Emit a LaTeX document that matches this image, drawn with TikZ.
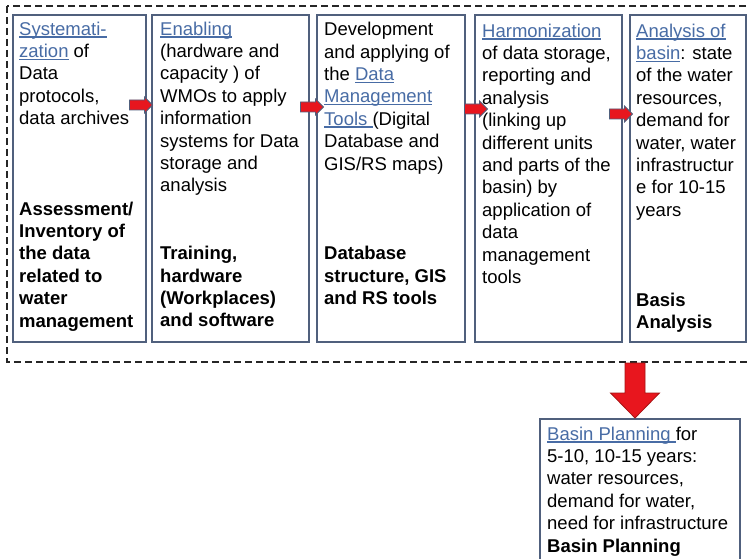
\documentclass[tikz,border=0pt]{standalone}
\usepackage{fontspec}
\setmainfont{Liberation Sans}
\definecolor{boxc}{RGB}{80,96,125}
\definecolor{linkc}{RGB}{72,108,165}
\definecolor{arrowred}{RGB}{232,22,30}
\definecolor{darkred}{RGB}{165,20,20}
\newcommand{\lnk}[1]{{\color{linkc}\setbox0\hbox{#1}\rlap{\rule[-2.6pt]{\wd0}{1.5pt}}\box0}}

\begin{document}
\begin{tikzpicture}[x=1pt,y=-1pt,
  stage/.style={draw=boxc,line width=2pt,anchor=north west,minimum height=327pt,inner sep=0pt},
  txt/.style={anchor=north west,inner sep=0pt,align=left,font=\fontsize{18.5}{22.4}\selectfont},
  outcome/.style={txt,font=\fontsize{18.5}{22.4}\selectfont\bfseries},
  flow/.pic={\filldraw[fill=arrowred,draw=boxc,line width=0.8pt]
    (-11.5,-5) -- (3.5,-5) -- (3.5,-8) -- (11.5,0) -- (3.5,8) -- (3.5,5) -- (-11.5,5) -- cycle;},
  bigflow/.pic={\filldraw[fill=arrowred,draw=darkred,line width=0.8pt]
    (-10,-27.5) -- (10,-27.5) -- (10,2.5) -- (24.5,2.5) -- (0,27.5) -- (-24.5,2.5) -- (-10,2.5) -- cycle;}]
\useasboundingbox (0,0) rectangle (747,559);
\fill[white] (0,0) rectangle (747,559);
\clip (0,0) rectangle (747,559);

% dashed frame round the five stages
\draw[line width=1.8pt,dash pattern=on 7pt off 4pt,black!85] (7,6) rectangle (752,362);

% stages
\node[stage,minimum width=133pt] (sys) at (12,14) {};
\node[stage,minimum width=157pt] (enb) at (151,14) {};
\node[stage,minimum width=148pt] (dmt) at (316,14) {};
\node[stage,minimum width=147pt] (har) at (474,14) {};
\node[stage,minimum width=116pt] (ana) at (629,14) {};
\node[stage,minimum width=200pt,minimum height=160pt] (plan) at (539,418) {};

% texts
\node[txt] (sys-t) at (19,21.5) {\lnk{Systemati-}\\
\lnk{zation} of\\
Data\\
protocols,\\
data archives};
\node[outcome] (sys-o) at (19,201.5) {Assessment/\\
Inventory of\\
the data\\
related to\\
water\\
management};

\node[txt] (enb-t) at (160,21.5) {\lnk{Enabling}\\
(hardware and\\
capacity ) of\\
WMOs to apply\\
information\\
systems for Data\\
storage and\\
analysis};
\node[outcome] (enb-o) at (160,246) {Training,\\
hardware\\
(Workplaces)\\
and software};

\node[txt] (dmt-t) at (324,22) {Development\\
and applying of\\
the \lnk{Data}\\
\lnk{Management}\\
\lnk{Tools\ }(Digital\\
Database and\\
GIS/RS maps)};
\node[outcome] (dmt-o) at (324,246) {Database\\
structure, GIS\\
and RS tools};

\node[txt] (har-t) at (482,23.5) {\lnk{Harmonization}\\
of data storage,\\
reporting and\\
analysis\\
(linking up\\
different units\\
and parts of the\\
basin) by\\
application of\\
data\\
management\\
tools};

\node[txt] (ana-t) at (636,23.5) {\lnk{Analysis of}\\
\lnk{basin}: state\\
of the water\\
resources,\\
demand for\\
water, water\\
infrastructur\\
e for 10-15\\
years};
\node[outcome] (ana-o) at (636,292.5) {Basis\\
Analysis};

\node[txt] (plan-t) at (547,426.5) {\lnk{Basin Planning\ }for\\
5-10, 10-15 years:\\
water resources,\\
demand for water,\\
need for infrastructure\\
\textbf{Basin Planning}};

% arrows
\pic (a1) at (141,105) {flow};
\pic (a2) at (312,107) {flow};
\pic (a3) at (476,109) {flow};
\pic (a4) at (621,114) {flow};
\pic (a5) at (635,390.5) {bigflow};
\end{tikzpicture}
\end{document}
